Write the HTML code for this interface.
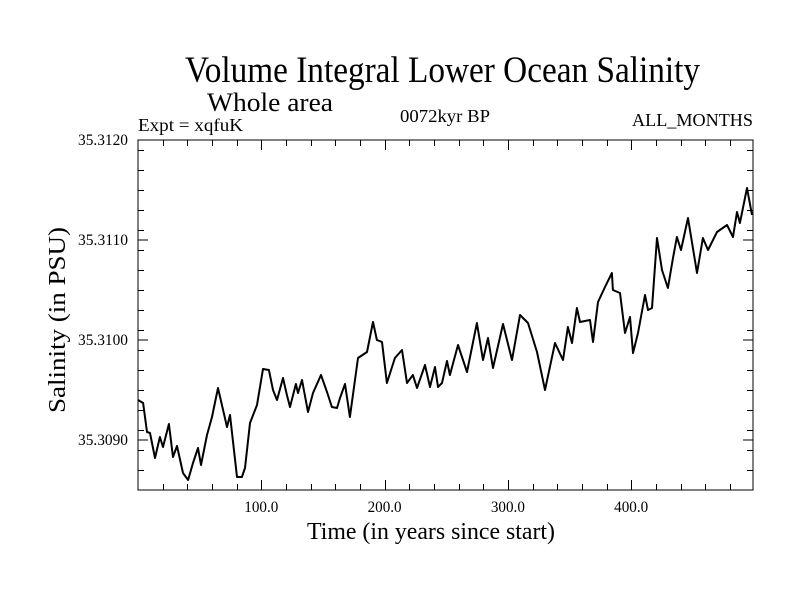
<!DOCTYPE html>
<html><head><meta charset="utf-8"><style>
body{margin:0;background:#fff}
svg text{font-family:"Liberation Serif",serif;fill:#000}
</style></head><body>
<svg id="chart" width="800" height="600" xmlns="http://www.w3.org/2000/svg">
<rect width="800" height="600" fill="#fff"/>
<text x="185" y="82" font-size="37" textLength="515" lengthAdjust="spacingAndGlyphs">Volume Integral Lower Ocean Salinity</text>
<text x="207" y="111" font-size="26" textLength="126" lengthAdjust="spacingAndGlyphs">Whole area</text>
<text x="138" y="131" font-size="18" textLength="105" lengthAdjust="spacingAndGlyphs">Expt = xqfuK</text>
<text x="400" y="122" font-size="18" textLength="90" lengthAdjust="spacingAndGlyphs">0072kyr BP</text>
<text x="632" y="126" font-size="18" textLength="121" lengthAdjust="spacingAndGlyphs">ALL_MONTHS</text>
<text x="307" y="539" font-size="24" textLength="248" lengthAdjust="spacingAndGlyphs">Time (in years since start)</text>
<text transform="translate(65,413) rotate(-90)" font-size="24" textLength="186" lengthAdjust="spacingAndGlyphs">Salinity (in PSU)</text>
<g id="axes"></g>
<path id="series" fill="none" stroke="#000" stroke-width="2" stroke-linejoin="round"/>
<rect x="138" y="140" width="615" height="350" fill="none" stroke="#000" stroke-width="1"/>
</svg>
<script>
const years=[0,4.1,7.3,9.7,13.8,17.8,20.3,25.1,28.4,31.6,36.5,40.6,44.6,48.7,51.1,56.0,60.0,64.9,72.2,74.6,80.3,84.3,86.8,90.8,96.5,101.4,106.2,109.5,112.7,117.6,120.8,123.3,128.1,129.8,133.0,137.9,141.9,148.4,153.3,157.3,161.4,163.8,167.9,171.9,178.4,185.7,190.6,193.8,197.9,201.9,208.4,214.1,218.2,223.0,226.3,232.8,236.8,240.9,243.3,246.6,250.6,253.0,259.5,266.8,274.9,279.8,283.9,287.9,296.0,303.3,309.8,316.3,323.6,330.1,338.2,344.7,348.7,352.0,356.0,358.5,366.6,369.0,373.1,378.8,384.4,385.2,390.9,395.0,399.0,401.5,405.5,411.2,413.6,416.9,420.9,425.0,429.8,433.9,437.1,440.4,446.1,453.4,458.2,462.3,469.6,477.7,482.6,485.8,488.2,493.9,498.0];
const salinity=[35.30940,35.30937,35.30908,35.30907,35.30882,35.30903,35.30893,35.30916,35.30883,35.30894,35.30867,35.30860,35.30877,35.30892,35.30875,35.30905,35.30923,35.30952,35.30913,35.30925,35.30863,35.30863,35.30872,35.30917,35.30935,35.30971,35.30970,35.30950,35.30940,35.30962,35.30945,35.30933,35.30956,35.30947,35.30960,35.30928,35.30947,35.30965,35.30948,35.30933,35.30932,35.30942,35.30956,35.30923,35.30982,35.30988,35.31018,35.31000,35.30998,35.30957,35.30982,35.30990,35.30957,35.30965,35.30952,35.30975,35.30953,35.30973,35.30953,35.30957,35.30979,35.30965,35.30995,35.30968,35.31017,35.30980,35.31002,35.30972,35.31016,35.30980,35.31025,35.31017,35.30988,35.30950,35.30997,35.30980,35.31013,35.30997,35.31032,35.31018,35.31020,35.30998,35.31038,35.31053,35.31067,35.31050,35.31047,35.31007,35.31023,35.30987,35.31007,35.31045,35.31030,35.31032,35.31102,35.31070,35.31052,35.31082,35.31103,35.31090,35.31122,35.31067,35.31102,35.31090,35.31108,35.31115,35.31103,35.31128,35.31117,35.31152,35.31125];
const xTickLabels=["100.0","200.0","300.0","400.0"];
const xTickValues=[100,200,300,400];
const yTickLabels=["35.3090","35.3100","35.3110","35.3120"];
const yTickValues=[35.309,35.310,35.311,35.312];

const X0=138,X1=753,Y0=140,Y1=490,XMIN=0,XMAX=498.8,YMIN=35.3085,YMAX=35.3120;
function xs(v){return X0+(v-XMIN)/(XMAX-XMIN)*(X1-X0);}
function ys(v){return Y1-(v-YMIN)/(YMAX-YMIN)*(Y1-Y0);}
const NS="http://www.w3.org/2000/svg";
const axes=document.getElementById('axes');
function line(x1,y1,x2,y2,name){
  const l=document.createElementNS(NS,'line');
  l.setAttribute('x1',x1);l.setAttribute('y1',y1);l.setAttribute('x2',x2);l.setAttribute('y2',y2);
  l.setAttribute('stroke','#000');l.setAttribute('stroke-width','1');
  
  
  axes.appendChild(l);
}
for(let v=20;v<XMAX;v+=20){
  const x=Math.round(xs(v))+0.5;const major=(v%100===0);const L=major?10:6;
  line(x,Y0,x,Y0+L,'x-tick-top');line(x,Y1,x,Y1-L,'x-tick-bottom');
}
for(let i=1;i<=17;i++){
  const v=YMIN+i*0.0002;const y=Math.round(ys(v))+0.5;
  line(X0,y,X0+6,y,'y-tick-left');line(X1,y,X1-6,y,'y-tick-right');
}
yTickValues.forEach((v,i)=>{
  const y=ys(v);
  line(X0,y,X0+10,y,'y-major-tick-left');line(X1,y,X1-10,y,'y-major-tick-right');
  const t=document.createElementNS(NS,'text');
  t.setAttribute('x',78);t.setAttribute('y',y+5);t.setAttribute('font-size','16');
  t.setAttribute('textLength','50');t.setAttribute('lengthAdjust','spacingAndGlyphs');
  t.textContent=yTickLabels[i];
  
  
  axes.appendChild(t);
});
xTickValues.forEach((v,i)=>{
  const t=document.createElementNS(NS,'text');
  t.setAttribute('x',xs(v)-17);t.setAttribute('y',512);t.setAttribute('font-size','16');
  t.setAttribute('textLength','34');t.setAttribute('lengthAdjust','spacingAndGlyphs');
  t.textContent=xTickLabels[i];
  
  
  axes.appendChild(t);
});
document.getElementById('series').setAttribute('d',years.map((v,i)=>(i?'L':'M')+xs(v).toFixed(1)+','+ys(salinity[i]).toFixed(1)).join(''));
</script>
</body></html>
